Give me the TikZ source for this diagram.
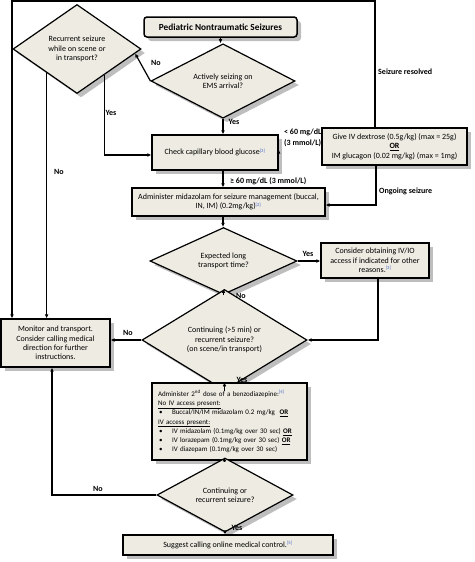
\documentclass[tikz,border=0pt]{standalone}
\usepackage{fontspec}
\setmainfont{Carlito}
\usetikzlibrary{shapes.geometric,shadows,calc,arrows.meta}
\definecolor{boxfill}{RGB}{237,235,226}
\definecolor{shadowgray}{RGB}{190,190,190}
\definecolor{refblue}{RGB}{70,100,200}
\newcommand{\refn}[1]{\textsuperscript{\fontsize{4.6}{5}\selectfont\color{refblue}[#1]}}
\newcommand{\bul}{\hspace*{1pt}\makebox[13pt][l]{\textbullet}}
\begin{document}
\begin{tikzpicture}[x=1pt,y=-1pt,
  font=\fontsize{8}{9.4}\selectfont,
  base/.style={draw=black, line width=1.2pt, fill=boxfill,
    drop shadow={shadow xshift=4pt, shadow yshift=-4pt, fill=shadowgray, opacity=1},
    inner sep=2pt, align=center},
  procbox/.style={base, rectangle},
  decbox/.style={base, diamond, inner sep=0pt},
  arr/.style={line width=1.2pt, -{Latex[length=4pt,width=3.8pt]}},
  lbl/.style={font=\fontsize{8}{9}\selectfont\bfseries, inner sep=0pt},
]
\useasboundingbox (0,0) rectangle (474,562);

% nodes
\node[procbox, rounded corners=3pt, line width=1.5pt, minimum width=153pt, minimum height=20pt,
  font=\fontsize{9.3}{10}\selectfont\bfseries] (start) at (220.5,27) {Pediatric Nontraumatic Seizures};
\node[decbox, minimum width=144pt, minimum height=53pt] (act) at (223,81) {Actively seizing on\\EMS arrival?};
\node[decbox, minimum width=128pt, minimum height=89pt] (rec) at (77,49) {Recurrent seizure\\while on scene or\\in transport?};
\node[procbox, minimum width=126pt, minimum height=35pt] (chk) at (215,152.5) {Check capillary blood glucose\refn{3}};
\node[procbox, minimum width=145pt, minimum height=37pt] (give) at (394.5,146.5)
  {Give IV dextrose (0.5g/kg) (max = 25g)\\\textbf{\underline{OR}}\\IM glucagon (0.02 mg/kg) (max = 1mg)};
\node[procbox, minimum width=193pt, minimum height=28pt] (adm) at (228.5,202)
  {Administer midazolam for seizure management (buccal,\\IN, IM) (0.2mg/kg)\refn{2}};
\node[decbox, minimum width=147pt, minimum height=54pt] (exp) at (223.5,261) {Expected long\\transport time?};
\node[procbox, minimum width=108pt, minimum height=35pt] (cons) at (375,260.5)
  {Consider obtaining IV/IO\\access if indicated for other\\reasons.\refn{3}};
\node[decbox, minimum width=165pt, minimum height=74pt] (cont) at (224.5,340)
  {Continuing (>5 min) or\\recurrent seizure?\\(on scene/in transport)};
\node[procbox, minimum width=109pt, minimum height=48pt] (mon) at (55.5,343)
  {Monitor and transport.\\Consider calling medical\\direction for further\\instructions.};
\node[procbox, minimum width=155pt, minimum height=77pt, align=left, text width=143pt,
  font=\fontsize{7}{9.2}\selectfont] (adm2) at (229.5,421.5)
  {Administer 2\textsuperscript{nd} dose of a benzodiazepine:\refn{4}\\
   \underline{No IV access present:}\\
   \bul Buccal/IN/IM midazolam 0.2 mg/kg\ \ \textbf{\underline{OR}}\\
   \underline{IV access present:}\\
   \bul IV midazolam (0.1mg/kg over 30 sec) \textbf{\underline{OR}}\\
   \bul IV lorazepam (0.1mg/kg over 30 sec) \textbf{\underline{OR}}\\
   \bul IV diazepam (0.1mg/kg over 30 sec)};
\node[decbox, minimum width=136pt, minimum height=50pt] (cont2) at (225,495) {Continuing or\\recurrent seizure?};
\node[procbox, minimum width=210pt, minimum height=20pt] (sug) at (228,545) {Suggest calling online medical control.\refn{5}};

% helper coordinates
\coordinate (tl) at (12,1);
\coordinate (rl) at ($(rec.west)!0.53!(rec.south)$);
\coordinate (rr) at ($(rec.south)!0.42!(rec.east)$);
\coordinate (rn) at ($(rec.east)!0.1!(rec.south)$);

% connectors
\draw[arr] (start.south) -- (start.south |- act.north);
\draw[arr] (act.west) -- (rn);
\draw[arr] (act.south) -- (act.south |- chk.north);
\draw[arr] ($(chk.east)+(0,-3)$) -- ($(chk.east)+(0,-3)$ -| give.west);
\draw[arr] (act.south |- chk.south) -- (act.south |- adm.north);
\draw[arr] ($(give.north)+(-19.5,0)$) |- (tl) -- (tl |- mon.north);
\draw[arr] ($(give.south)+(-18.5,0)$) |- ($(adm.east)+(0,3)$);
\draw[arr] (rl) -- (rl |- mon.north);
\draw[arr] (rr) |- ($(chk.west)+(0,2.5)$);
\draw[arr] (act.south |- adm.south) -- (act.south |- exp.north);
\draw[arr] (exp.east) -- (exp.east -| cons.west);
\draw[arr] (exp.south) -- (exp.south |- cont.north);
\draw[arr] ($(cons.south)+(3,0)$) |- (cont.east);
\draw[arr] (cont.west) -- (cont.west -| mon.east);
\draw[arr] (cont.south) -- (cont.south |- adm2.north);
\draw[arr] (cont.south |- adm2.south) -- (cont.south |- cont2.north);
\draw[arr] (cont2.west) -| ($(mon.south)+(-3.5,0)$);
\draw[arr] (cont2.south) -- (cont2.south |- sug.north);

% labels
\node[lbl] (lno1) at (156,63) {No};
\node[lbl] (lyes1) at (234,122) {Yes};
\node[lbl, anchor=west] (llt1) at (284,132) {< 60 mg/dL};
\node[lbl, anchor=west] (llt2) at (284,143) {(3 mmol/L)};
\node[lbl, anchor=west] (lres) at (378,72) {Seizure resolved};
\node[lbl, anchor=west] (long) at (379,191) {Ongoing seizure};
\node[lbl, anchor=west] (lge) at (230,181) {≥ 60 mg/dL (3 mmol/L)};
\node[lbl] (lyes2) at (308,254) {Yes};
\node[lbl] (lno2) at (241,296) {No};
\node[lbl] (lno3) at (128,333) {No};
\node[lbl] (lyes3) at (242,380) {Yes};
\node[lbl] (lno4) at (98,489) {No};
\node[lbl] (lyes4) at (237,528) {Yes};
\node[lbl] (lno5) at (59,172) {No};
\node[lbl] (lyes5) at (111,113) {Yes};
\end{tikzpicture}
\end{document}
